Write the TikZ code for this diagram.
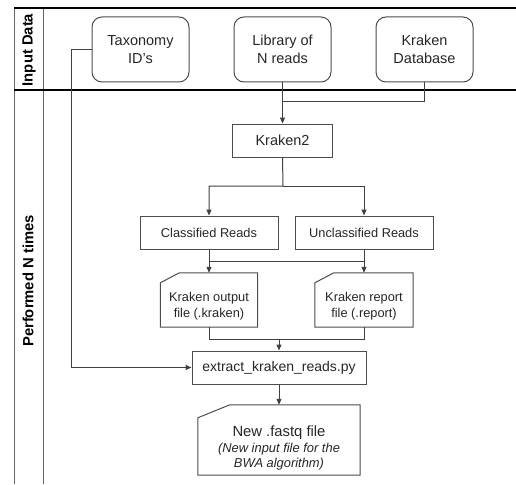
\documentclass[tikz,border=0pt]{standalone}
\usepackage{fontspec}
\setmainfont{Liberation Sans}
\usetikzlibrary{arrows.meta,positioning}

\begin{document}
\begin{tikzpicture}[x=1pt, y=-1pt,
  fbig/.style={font=\fontsize{14.5}{17.5}\selectfont},
  fsmall/.style={font=\fontsize{12.8}{15.5}\selectfont},
  lanelab/.style={rotate=90, font=\bfseries\fontsize{14.8}{17}\selectfont},
  box/.style={draw=black!70, line width=1pt, align=center, inner sep=0pt, text=black!85},
  inbox/.style={box, fbig, rounded corners=10pt, minimum width=97pt, minimum height=65pt},
  stepbox/.style={box, minimum height=33pt},
  docbox/.style={inner sep=0pt, minimum height=54pt},
  docline/.style={draw=black!70, line width=1pt},
  link/.style={draw=black!75, line width=1pt},
  >={Triangle[length=6pt, width=5pt]}]
\useasboundingbox (0,0) rectangle (516,484);
% swim lanes
\draw[black!60, line width=1pt] (14,484) -- (14,8);
\draw[black!60, line width=1pt] (43,8) -- (43,484);
\draw[line width=1.4pt] (14,8) -- (516,8);
\draw[line width=1.8pt] (14,90) -- (516,90);
\node[lanelab] (inlab) at (29,50) {Input Data};
\node[lanelab] (perflab) at (28,281) {Performed N times};
% input data
\node[inbox] (tax) at (140.5,49.5) {Taxonomy\\ID’s};
\node[inbox, right=44pt of tax] (lib) {Library of\\N reads};
\node[inbox, right=44pt of lib] (kdb) {Kraken\\Database};
% processing
\node[stepbox, fbig, minimum width=100pt, below=41pt of lib] (k2) {Kraken2};
\node[stepbox, fsmall, minimum width=138pt] (cls) at (209,232.5) {Classified Reads};
\node[stepbox, fsmall, minimum width=138pt] (ucls) at (364,232.5) {Unclassified Reads};
\node[docbox, minimum width=97pt,
  label={[fsmall, align=center, text=black!85, yshift=-6pt]center:Kraken output\\file (.kraken)}] (kout) at (209,300) {};
\node[docbox, minimum width=98pt,
  label={[fsmall, align=center, text=black!85, yshift=-6pt]center:Kraken report\\file (.report)}] (krep) at (364,300) {};
\node[stepbox, font=\fontsize{14}{17}\selectfont, minimum width=174pt] (xtr) at (279,367.5) {extract\_kraken\_reads.py};
\node[docbox, minimum width=162pt, minimum height=70pt,
  label={[align=center, text=black!85, yshift=-8pt, font=\fontsize{12.9}{15.5}\selectfont]center:{\fontsize{14.8}{15.5}\selectfont New .fastq file}\\\itshape (New input file for the\\\itshape BWA algorithm)}] (fq) at (279,440) {};
% document outlines
\foreach \n/\cx/\cy in {kout/19/10, krep/19/10, fq/32/13}
  \draw[docline] ([yshift=-\cy pt]\n.north west) -- ([xshift=\cx pt]\n.north west)
    -- (\n.north east) -- (\n.south east) -- (\n.south west) -- cycle;
% junctions
\coordinate (jin) at (283,102);
\coordinate (jk2) at (283,186);
\coordinate (jcls) at (0,261);
\coordinate (jdoc) at (279,339);
% connectors
\draw[link, ->] (lib) -- (k2);
\draw[link] (kdb.south) |- (jin);
\draw[link, ->] (k2.south) -- (jk2) -| (cls.north);
\draw[link, ->] (jk2) -| (ucls.north);
\draw[link, ->] (cls) -- (kout);
\draw[link, ->] (ucls) -- (krep);
\draw[link] (cls.south |- jcls) -- (ucls.south |- jcls);
\draw[link] (kout.south) |- (jdoc);
\draw[link] (krep.south) |- (jdoc);
\draw[link, ->] (jdoc) -- (xtr);
\draw[link, ->] (xtr) -- (fq);
\draw[link, ->] (tax.west) -- ++(-20,0) |- (xtr.west);
\end{tikzpicture}
\end{document}
